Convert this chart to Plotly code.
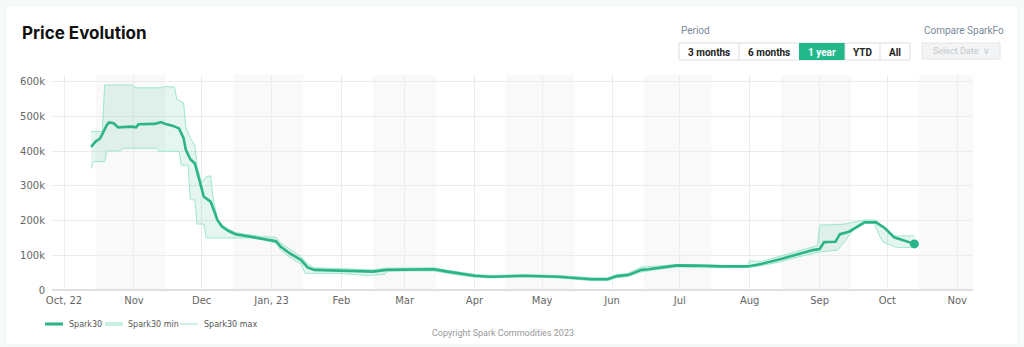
import plotly.graph_objects as go

# ---------------- data ----------------
main_dates = ["2022-10-13", "2022-10-15", "2022-10-17", "2022-10-20", "2022-10-21", "2022-10-23",
              "2022-10-25", "2022-10-31", "2022-11-02", "2022-11-03", "2022-11-10", "2022-11-13",
              "2022-11-15", "2022-11-18", "2022-11-21", "2022-11-23", "2022-11-24", "2022-11-26",
              "2022-11-28", "2022-11-30", "2022-12-02", "2022-12-05", "2022-12-08", "2022-12-10",
              "2022-12-13", "2022-12-16", "2022-12-20", "2022-12-24", "2022-12-28", "2023-01-03",
              "2023-01-05", "2023-01-09", "2023-01-14", "2023-01-17", "2023-01-20", "2023-01-31",
              "2023-02-15", "2023-02-21", "2023-03-14", "2023-03-20", "2023-04-01", "2023-04-08",
              "2023-04-23", "2023-05-08", "2023-05-18", "2023-05-23", "2023-05-30", "2023-06-03",
              "2023-06-08", "2023-06-14", "2023-06-17", "2023-06-23", "2023-06-30", "2023-07-11",
              "2023-07-20", "2023-07-31", "2023-08-06", "2023-08-14", "2023-08-21", "2023-08-29",
              "2023-09-01", "2023-09-03", "2023-09-08", "2023-09-10", "2023-09-14", "2023-09-18",
              "2023-09-21", "2023-09-26", "2023-09-30", "2023-10-04", "2023-10-13"]
spark30 = [413, 428, 437, 476, 483, 481,
           469, 471, 469, 478, 479, 484,
           479, 474, 466, 438, 404, 377,
           365, 317, 269, 255, 202, 183,
           170, 161, 157, 151, 149, 141,
           125, 106, 87, 65, 58, 56,
           53, 58, 60, 53, 41, 38,
           41, 38, 34, 31, 31, 40,
           43, 58, 60, 65, 71, 70,
           68, 68, 75, 88, 101, 115,
           118, 138, 139, 161, 168, 183,
           195, 195, 178, 152, 133]

max_dates = ["2022-10-13", "2022-10-18", "2022-10-19", "2022-10-31", "2022-11-02", "2022-11-13",
             "2022-11-14", "2022-11-19", "2022-11-20", "2022-11-23", "2022-11-24", "2022-11-26",
             "2022-11-28", "2022-11-29", "2022-12-01", "2022-12-03", "2022-12-05", "2022-12-06",
             "2022-12-08", "2022-12-10", "2022-12-13", "2022-12-16", "2022-12-20", "2022-12-24",
             "2022-12-28", "2023-01-03", "2023-01-05", "2023-01-09", "2023-01-14", "2023-01-17",
             "2023-01-20", "2023-01-31", "2023-02-15", "2023-02-21", "2023-03-14", "2023-03-20",
             "2023-04-01", "2023-04-08", "2023-04-23", "2023-05-08", "2023-05-18", "2023-05-23",
             "2023-05-30", "2023-06-03", "2023-06-08", "2023-06-14", "2023-06-23", "2023-06-30",
             "2023-07-11", "2023-07-20", "2023-07-31", "2023-08-01", "2023-08-06", "2023-08-14",
             "2023-08-21", "2023-08-29", "2023-08-31", "2023-09-01", "2023-09-12", "2023-09-21",
             "2023-09-26", "2023-09-29", "2023-10-04", "2023-10-13"]
spark30_max = [457, 457, 591, 591, 583, 583,
               587, 585, 550, 540, 470, 437,
               418, 356, 309, 327, 329, 269,
               205, 188, 175, 166, 161, 157,
               154, 152, 136, 118, 97, 75,
               64, 62, 58, 63, 64, 57,
               45, 42, 44, 42, 38, 35,
               35, 44, 48, 66, 70, 74,
               73, 71, 71, 84, 82, 97,
               110, 125, 128, 187, 190, 202,
               202, 183, 156, 156]

min_dates = ["2022-10-13", "2022-10-14", "2022-10-19", "2022-10-20", "2022-10-26", "2022-10-27",
             "2022-11-11", "2022-11-12", "2022-11-21", "2022-11-22", "2022-11-25", "2022-11-26",
             "2022-11-28", "2022-11-29", "2022-12-02", "2022-12-03", "2022-12-23", "2022-12-28",
             "2023-01-03", "2023-01-05", "2023-01-09", "2023-01-14", "2023-01-16", "2023-01-31",
             "2023-02-12", "2023-02-20", "2023-02-22", "2023-03-14", "2023-03-20", "2023-04-01",
             "2023-04-08", "2023-04-23", "2023-05-08", "2023-05-18", "2023-05-23", "2023-05-30",
             "2023-06-03", "2023-06-08", "2023-06-14", "2023-06-23", "2023-06-30", "2023-07-11",
             "2023-07-20", "2023-07-31", "2023-08-06", "2023-08-14", "2023-08-21", "2023-08-29",
             "2023-09-01", "2023-09-09", "2023-09-12", "2023-09-17", "2023-09-21", "2023-09-25",
             "2023-09-27", "2023-09-29", "2023-10-05", "2023-10-13"]
spark30_min = [351, 370, 370, 401, 401, 409,
               409, 400, 400, 360, 360, 260,
               260, 190, 190, 150, 150, 145,
               135, 115, 95, 75, 48, 48,
               42, 45, 55, 55, 48, 37,
               35, 38, 35, 31, 27, 27,
               35, 39, 52, 61, 67, 64,
               64, 65, 70, 80, 93, 105,
               110, 115, 139, 183, 199, 197,
               164, 139, 123, 123]

x_tick_vals = ["2022-10-01", "2022-11-01", "2022-12-01", "2023-01-01", "2023-02-01", "2023-03-01",
               "2023-04-01", "2023-05-01", "2023-06-01", "2023-07-01", "2023-08-01", "2023-09-01",
               "2023-10-01", "2023-11-01"]
x_tick_text = ["Oct, 22", "Nov", "Dec", "Jan, 23", "Feb", "Mar", "Apr", "May", "Jun", "Jul",
               "Aug", "Sep", "Oct", "Nov"]
y_tick_vals = [0, 100, 200, 300, 400, 500, 600]
y_tick_text = ["0", "100k", "200k", "300k", "400k", "500k", "600k"]

band_starts = ["2022-10-15", "2022-12-15", "2023-02-15", "2023-04-15", "2023-06-15",
               "2023-08-15", "2023-10-15"]
band_ends = ["2022-11-15", "2023-01-15", "2023-03-15", "2023-05-15", "2023-07-15",
             "2023-09-15", "2023-11-15"]

period_buttons = ["3 months", "6 months", "1 year", "YTD", "All"]
legend_names = ["Spark30", "Spark30 min", "Spark30 max"]

# ---------------- styling ----------------
GREEN = "#2bb389"
LIGHT = "#9ee6cd"
FILL = "rgba(43,179,137,0.12)"

W, H = 1024, 347
ML, MR, MT, MB = 52, 51, 75, 57
PW, PH = W - ML - MR, H - MT - MB


def px(x):
    return (x - ML) / PW


def py(y):
    return 1 - (y - MT) / PH


fig = go.Figure()

fig.add_trace(go.Scatter(x=max_dates, y=spark30_max, name=legend_names[2], mode="lines",
                         line=dict(color=LIGHT, width=1), hoverinfo="skip", showlegend=False))
fig.add_trace(go.Scatter(x=min_dates, y=spark30_min, name=legend_names[1], mode="lines",
                         line=dict(color=LIGHT, width=1), fill="tonexty", fillcolor=FILL,
                         hoverinfo="skip", showlegend=False))
fig.add_trace(go.Scatter(x=main_dates, y=spark30, name=legend_names[0], mode="lines",
                         line=dict(color=GREEN, width=2.6), showlegend=False))
fig.add_trace(go.Scatter(x=[main_dates[-1]], y=[spark30[-1]], mode="markers",
                         marker=dict(color=GREEN, size=9), showlegend=False, hoverinfo="skip"))

shapes = []
# card
shapes.append(dict(type="rect", xref="paper", yref="paper", x0=px(5), x1=px(1018),
                   y0=py(345), y1=py(5), fillcolor="white",
                   line=dict(color="#eef2f2", width=1), layer="below"))
for s, e in zip(band_starts, band_ends):
    shapes.append(dict(type="rect", xref="x", yref="paper", x0=s, x1=e, y0=0, y1=1,
                       fillcolor="#f9f9f9", line=dict(width=0), layer="below"))

annotations = [
    dict(text="<b>Price Evolution</b>", x=px(20), y=py(33), xref="paper", yref="paper",
         xanchor="left", yanchor="middle", showarrow=False,
         font=dict(family="Inter", size=17, color="#111")),
    dict(text="Period", x=px(679), y=py(30), xref="paper", yref="paper",
         xanchor="left", yanchor="middle", showarrow=False,
         font=dict(family="Roboto", size=10, color="#7a8a99")),
    dict(text="Compare SparkFo", x=px(922), y=py(30), xref="paper", yref="paper",
         xanchor="left", yanchor="middle", showarrow=False,
         font=dict(family="Roboto", size=10, color="#7a8a99")),
    dict(text="Copyright Spark Commodities 2023", x=px(503), y=py(333), xref="paper",
         yref="paper", xanchor="center", yanchor="middle", showarrow=False,
         font=dict(family="Roboto", size=9, color="#999")),
]

# legend (drawn to match reference spacing)
leg_y = 324
leg_items = [(45, 63, 67, GREEN, 3), (105, 123, 126, "#c9f0e2", 4), (180, 198, 202, LIGHT, 1)]
for name, (lx0, lx1, tx, col, w) in zip(legend_names, leg_items):
    shapes.append(dict(type="line", xref="paper", yref="paper", x0=px(lx0), x1=px(lx1),
                       y0=py(leg_y), y1=py(leg_y), line=dict(color=col, width=w)))
    annotations.append(dict(text=name, x=px(tx), y=py(leg_y), xref="paper", yref="paper",
                            xanchor="left", yanchor="middle", showarrow=False,
                            font=dict(family="DejaVu Sans", size=8, color="#555")))

# period buttons
btn_edges = [679, 739, 799, 845, 880, 910]
shapes.append(dict(type="rect", xref="paper", yref="paper", x0=px(679), x1=px(910),
                   y0=py(60), y1=py(43), fillcolor="white",
                   line=dict(color="#d9dde0", width=1)))
for i, lab in enumerate(period_buttons):
    x0, x1 = btn_edges[i], btn_edges[i + 1]
    active = lab == "1 year"
    if active:
        shapes.append(dict(type="rect", xref="paper", yref="paper", x0=px(x0), x1=px(x1),
                           y0=py(60), y1=py(43), fillcolor="#22b88a", line=dict(width=0)))
    elif i > 0:
        shapes.append(dict(type="line", xref="paper", yref="paper", x0=px(x0), x1=px(x0),
                           y0=py(60), y1=py(43), line=dict(color="#d9dde0", width=1)))
    annotations.append(dict(text="<b>" + lab + "</b>", x=px((x0 + x1) / 2), y=py(52),
                            xref="paper", yref="paper", xanchor="center", yanchor="middle",
                            showarrow=False,
                            font=dict(family="Roboto", size=10,
                                      color="white" if active else "#222")))
# select date box
shapes.append(dict(type="rect", xref="paper", yref="paper", x0=px(922), x1=px(1000),
                   y0=py(59), y1=py(43), fillcolor="#f3f4f5",
                   line=dict(color="#e3e5e7", width=1)))
annotations.append(dict(text="Select Date  ∨", x=px(961), y=py(51), xref="paper", yref="paper",
                        xanchor="center", yanchor="middle", showarrow=False,
                        font=dict(family="Roboto", size=9, color="#c4c8cc")))

fig.update_layout(
    width=W, height=H,
    margin=dict(l=ML, r=MR, t=MT, b=MB),
    paper_bgcolor="#f7fafa",
    plot_bgcolor="rgba(0,0,0,0)",
    font=dict(family="DejaVu Sans", size=10, color="#666"),
    showlegend=False,
    shapes=shapes,
    annotations=annotations,
    xaxis=dict(type="date", range=["2022-09-25 16:00", "2023-11-08"],
               tickvals=x_tick_vals, ticktext=x_tick_text, showgrid=True,
               gridcolor="#ececec", gridwidth=1, zeroline=False, showline=False,
               tickfont=dict(size=10, color="#666"), ticks="", fixedrange=True,
               ticklabelstandoff=3),
    yaxis=dict(range=[0, 620], tickvals=y_tick_vals, ticktext=y_tick_text, showgrid=True,
               gridcolor="#ececec", zeroline=True, zerolinecolor="#e0e0e0",
               tickfont=dict(size=10, color="#666"), ticks="", fixedrange=True,
               ticklabelstandoff=6),
)

fig.write_html("out.html")
